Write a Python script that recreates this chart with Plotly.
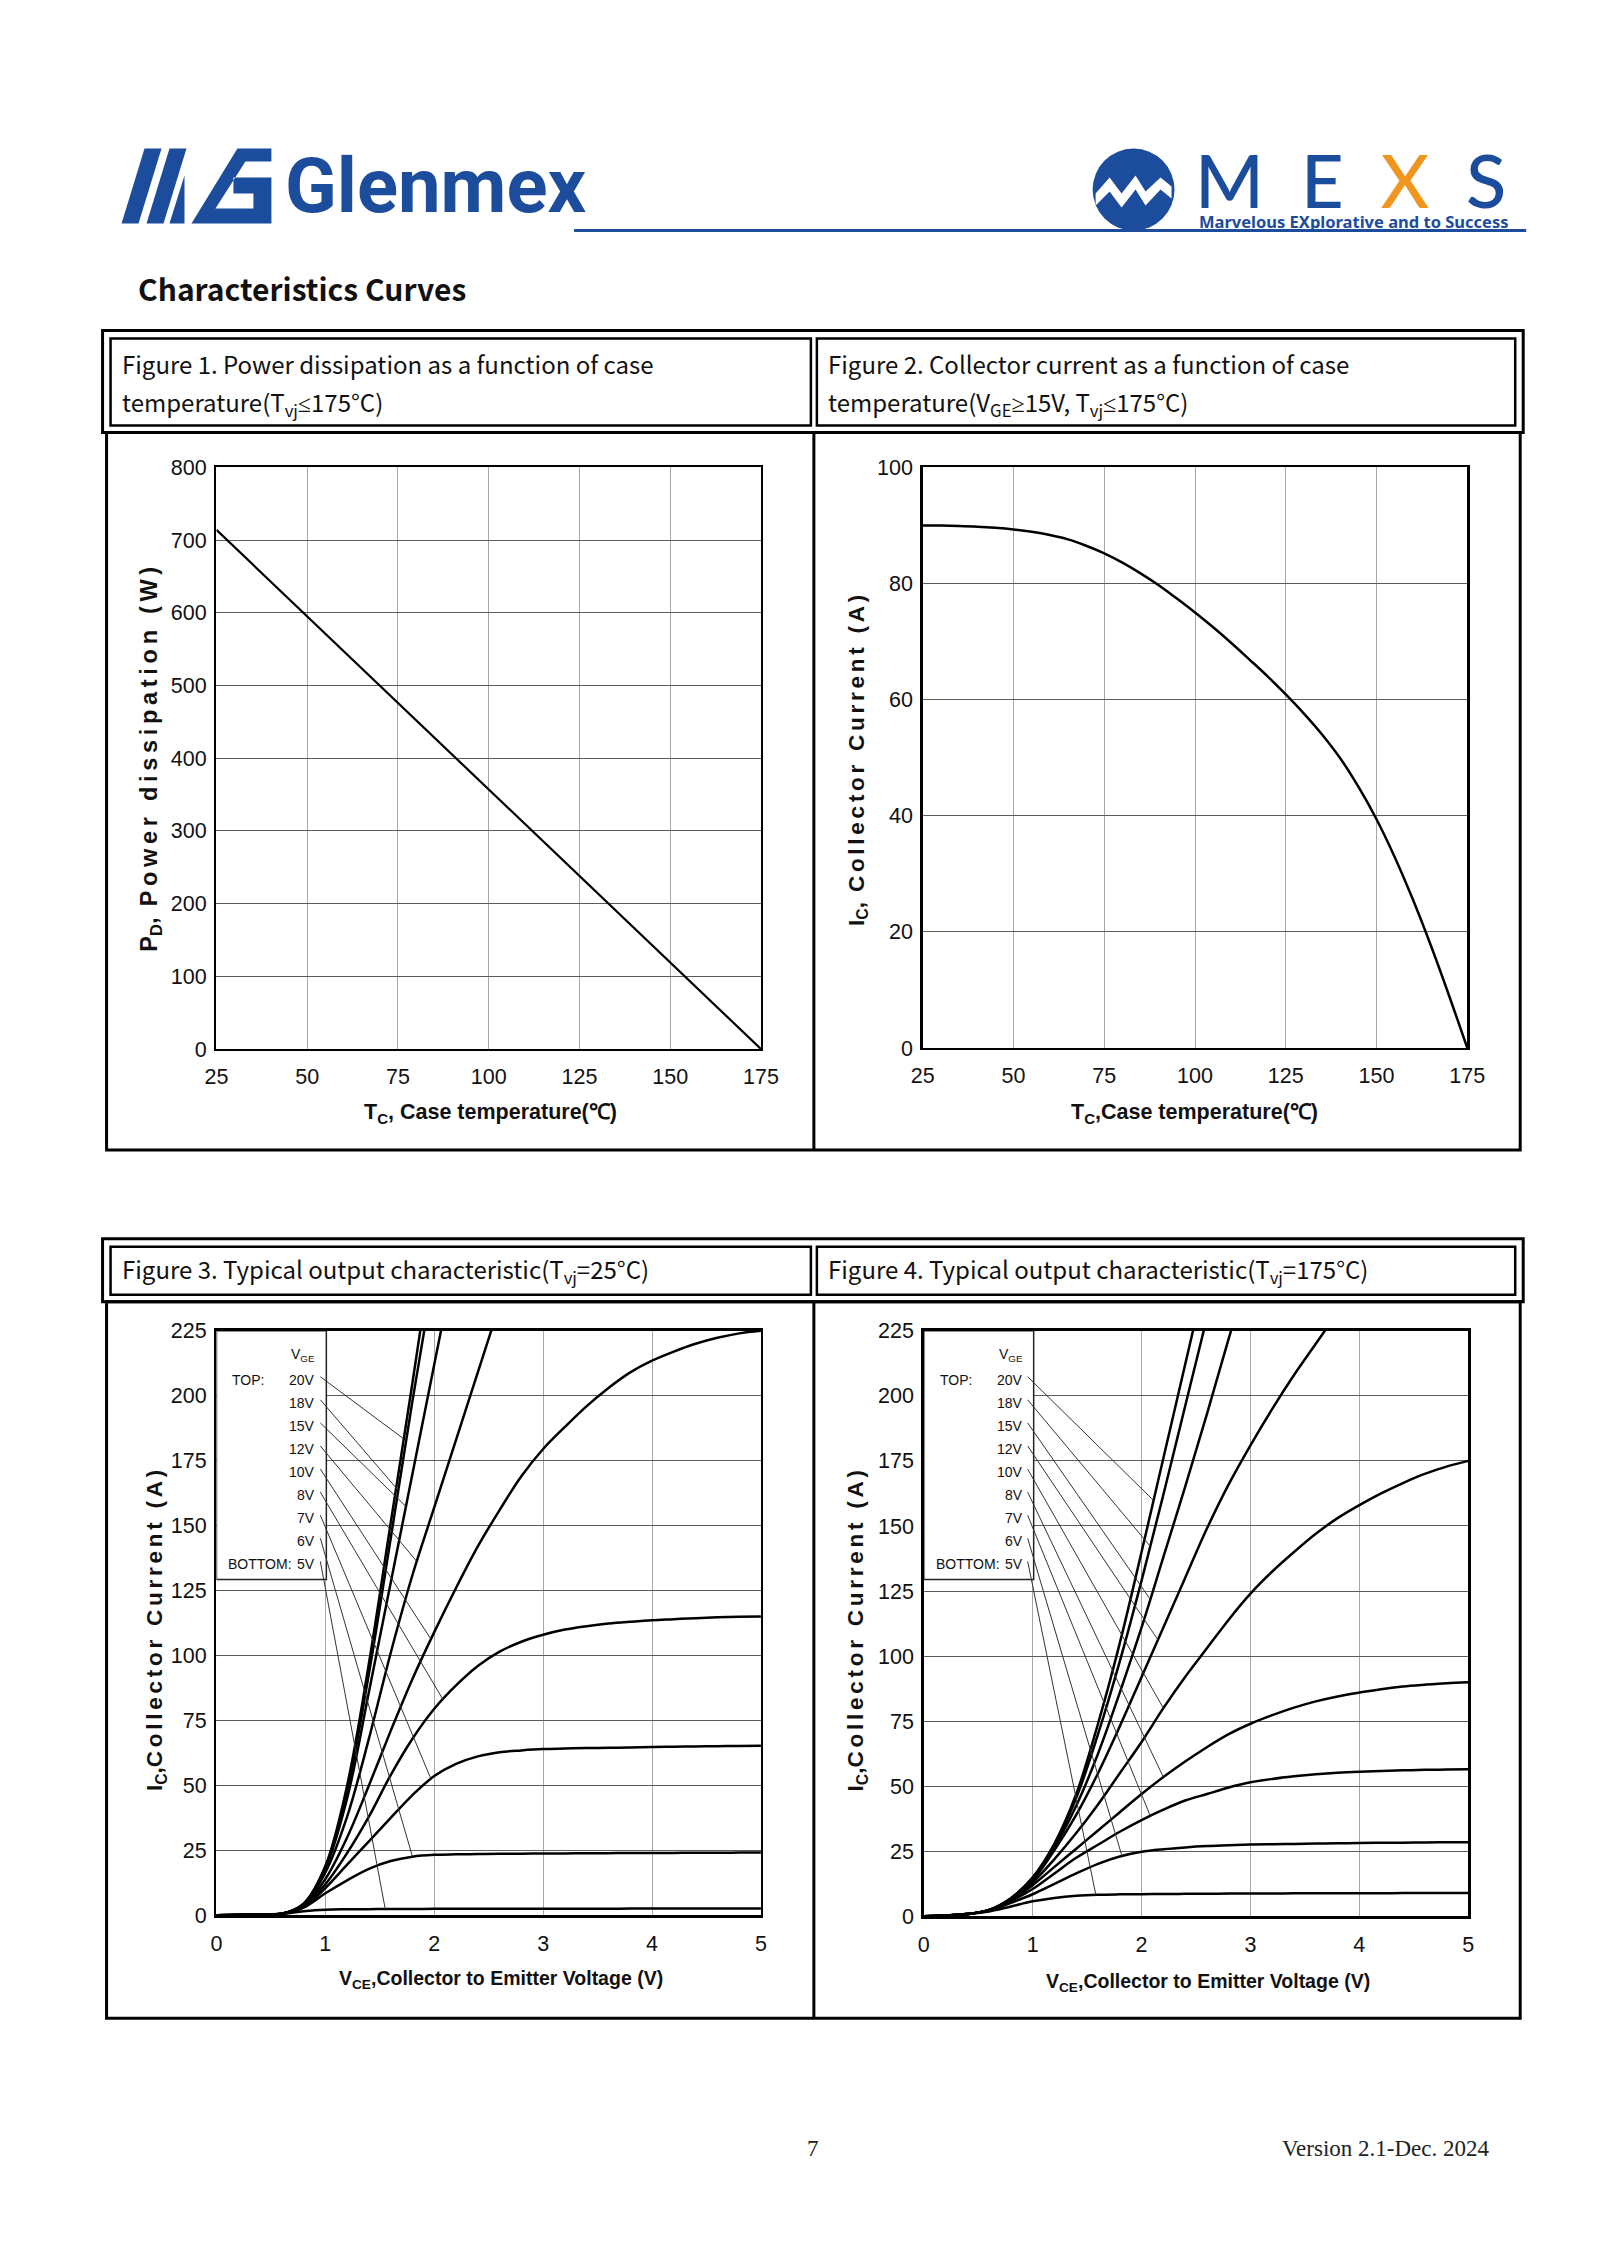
import numpy as np
import plotly.graph_objects as go

# Figure size (the page keeps its default body margin) and a calibration that maps
# page-pixel positions measured on the reference onto figure positions.
PAGE_W, PAGE_H = 1600, 2262
OFF = 8
W, H = PAGE_W - 2 * OFF, PAGE_H - 2 * OFF
SX, CX = 0.982, 10.5
SY, CY = 0.990, 11.4

BLUE = '#1c4c9c'
ORANGE = '#f0961e'
SANS = 'Liberation Sans, Arial, sans-serif'
CJK = 'Noto Sans CJK SC, Noto Sans, sans-serif'
SERIF = 'Liberation Serif, Times New Roman, serif'

# ---------------- data ----------------
fig1_tc = [25, 50, 75, 100, 125, 150, 175]
fig1_pd = [714, 595, 476, 357, 238, 119, 0]

fig2_tc = [25, 30, 35, 40, 45, 50, 55, 60, 65, 70, 75, 80, 85, 90, 95, 100,
           105, 110, 115, 120, 125, 130, 135, 140, 145, 150, 155, 160, 165, 170, 175]
fig2_ic = [90.0, 89.97, 89.9, 89.78, 89.58, 89.3, 88.9, 88.35, 87.6, 86.5, 85.2, 83.6, 81.75, 79.7, 77.4, 75.0,
           72.45, 69.75, 66.9, 64.0, 60.9, 57.6, 54.0, 49.9, 45.0, 39.4, 32.9, 25.6, 17.6, 9.0, 0.0]

vge_labels = ['20V', '18V', '15V', '12V', '10V', '8V', '7V', '6V', '5V']

vce = [0, 0.2, 0.4, 0.6, 0.8, 1.0, 1.2, 1.4, 1.6, 1.8, 2.0, 2.2, 2.4, 2.6, 2.8,
       3.0, 3.2, 3.4, 3.6, 3.8, 4.0, 4.2, 4.4, 4.6, 4.8, 5.0]

# Figure 3, Tvj = 25 C  (values above 225 A are clipped by the axis)
ic3_20v = [0, 0.1, 0.3, 0.6, 4.5, 19, 50, 97, 151, 205, 261] + [None] * 15
ic3_18v = [0, 0.1, 0.3, 0.6, 4.4, 18.5, 48, 93, 145, 198, 248] + [None] * 15
ic3_15v = [0, 0.1, 0.3, 0.6, 4.3, 18, 45, 86, 128, 170, 212, 254] + [None] * 14
ic3_12v = [0, 0.1, 0.3, 0.6, 4.1, 16.5, 38, 68, 101, 131, 157, 183, 209, 235] + [None] * 12
ic3_10v = [0, 0.1, 0.3, 0.6, 3.8, 14, 30, 50, 71, 91, 109, 126, 142, 156, 169, 179.5, 188, 196, 203, 209,
           213.5, 217, 220, 222.3, 224, 225]
ic3_8v = [0, 0.1, 0.3, 0.6, 3.5, 12, 24, 38, 54, 68, 79.5, 88.5, 96, 101.5, 105.3, 108, 110, 111.3, 112.3, 113,
          113.6, 114, 114.4, 114.7, 114.9, 115]
ic3_7v = [0, 0.1, 0.3, 0.6, 3.2, 10.5, 19.5, 28.5, 37.5, 46.3, 53.6, 58.3, 61.2, 62.8, 63.5, 64, 64.2, 64.4, 64.5,
          64.6, 64.8, 64.9, 65, 65.1, 65.2, 65.3]
ic3_6v = [0, 0.1, 0.3, 0.6, 3, 8.5, 13.5, 17.9, 20.9, 22.6, 23.3, 23.5, 23.6, 23.7, 23.75, 23.8, 23.85, 23.9, 23.95,
          24, 24, 24.05, 24.1, 24.1, 24.15, 24.2]
ic3_5v = [0, 0.1, 0.3, 0.6, 1.6, 2.2, 2.35, 2.4, 2.45, 2.45, 2.5, 2.5, 2.5, 2.5, 2.55, 2.55, 2.55, 2.55, 2.55,
          2.6, 2.6, 2.6, 2.6, 2.6, 2.6, 2.6]

# Figure 4, Tvj = 175 C
ic4_20v = [0, 0.3, 0.9, 2.5, 7, 15, 28, 47, 74, 105, 140, 176, 212, 248] + [None] * 12
ic4_18v = [0, 0.3, 0.9, 2.5, 7, 14.8, 27.5, 45.5, 70, 98, 129, 162, 196, 230] + [None] * 12
ic4_15v = [0, 0.3, 0.9, 2.5, 6.8, 14.5, 26.5, 42.5, 62.5, 86, 111, 138, 165, 193, 222, 250] + [None] * 10
ic4_12v = [0, 0.3, 0.9, 2.4, 6.6, 13.8, 25.5, 39, 55, 73, 92, 111, 130, 149, 166, 181, 195, 208, 220, 232] + [None] * 6
ic4_10v = [0, 0.3, 0.9, 2.4, 6.4, 13, 22, 32, 43, 55, 67, 80, 92, 103, 114, 124, 132.5, 140, 147, 153,
           158, 162.5, 166.5, 170, 172.8, 175]
ic4_8v = [0, 0.3, 0.9, 2.4, 6.2, 12, 19, 26, 33, 40, 47, 53.5, 59.5, 65, 70, 74, 77.3, 80.2, 82.6, 84.5,
          86, 87.3, 88.3, 89, 89.6, 90]
ic4_7v = [0, 0.3, 0.9, 2.3, 5.9, 10.5, 16.5, 22.5, 27.5, 32.5, 37, 41, 44.5, 47, 49.5, 51.5, 52.8, 53.8, 54.6,
          55.2, 55.6, 55.9, 56.1, 56.3, 56.4, 56.5]
ic4_6v = [0, 0.3, 0.9, 2.2, 5.2, 8.5, 12.5, 16.5, 20.2, 23, 24.8, 25.8, 26.5, 27, 27.3, 27.6, 27.75, 27.85,
          27.95, 28.05, 28.2, 28.25, 28.3, 28.4, 28.45, 28.5]
ic4_5v = [0, 0.3, 0.9, 1.9, 3.8, 5.8, 7.1, 7.9, 8.3, 8.45, 8.5, 8.6, 8.65, 8.7, 8.75, 8.8, 8.82, 8.84, 8.86,
          8.88, 8.9, 8.92, 8.94, 8.96, 8.98, 9.0]

# VCE where each label's leader line touches its curve
fig3_leader_vce = [1.72, 1.67, 1.74, 1.84, 1.97, 2.08, 1.97, 1.80, 1.55]
fig4_leader_vce = [2.11, 2.08, 2.08, 2.15, 2.20, 2.20, 2.08, 1.82, 1.58]

fig12_xticks = [25, 50, 75, 100, 125, 150, 175]
fig1_yticks = [0, 100, 200, 300, 400, 500, 600, 700, 800]
fig2_yticks = [0, 20, 40, 60, 80, 100]
fig34_xticks = [0, 1, 2, 3, 4, 5]
fig34_yticks = [0, 25, 50, 75, 100, 125, 150, 175, 200, 225]

curves3 = [ic3_20v, ic3_18v, ic3_15v, ic3_12v, ic3_10v, ic3_8v, ic3_7v, ic3_6v, ic3_5v]
curves4 = [ic4_20v, ic4_18v, ic4_15v, ic4_12v, ic4_10v, ic4_8v, ic4_7v, ic4_6v, ic4_5v]


# ---------------- layout helpers (arguments are reference page pixels) ----------------
def X(p):
    return ((p - CX) / SX - OFF) / W


def Y(p):
    return 1 - ((p - CY) / SY - OFF) / H


PLOT = {
    1: (215, 468, 760, 1050),
    2: (922, 468, 1467, 1049),
    3: (215, 1332, 760, 1917),
    4: (923, 1332, 1468, 1918),
}
RANGES = {
    1: ([25, 175], [0, 800], fig12_xticks, fig1_yticks),
    2: ([25, 175], [0, 100], fig12_xticks, fig2_yticks),
    3: ([0, 5], [0, 225], fig34_xticks, fig34_yticks),
    4: ([0, 5], [0, 225], fig34_xticks, fig34_yticks),
}

fig = go.Figure()
layout_axes = {}
for k in range(1, 5):
    l, t, r, b = PLOT[k]
    xr, yr, xt, yt = RANGES[k]
    suf = '' if k == 1 else str(k)
    common = dict(showline=True, mirror=True, linecolor='black', linewidth=2.5,
                  showgrid=True, gridwidth=1, zeroline=False, ticks='outside',
                  tickcolor='rgba(0,0,0,0)', fixedrange=True,
                  tickfont=dict(family=SANS, size=21.5, color='#111'))
    layout_axes['xaxis' + suf] = dict(domain=[X(l), X(r)], anchor='y' + suf, range=xr,
                                      tickvals=xt, gridcolor='#a6a6a6', ticklen=7, **common)
    layout_axes['yaxis' + suf] = dict(domain=[Y(b), Y(t)], anchor='x' + suf, range=yr,
                                      tickvals=yt, gridcolor='#5c5c5c', ticklen=3, **common)

line_kw = dict(color='black', width=2.5, shape='spline', smoothing=1.0)
fig.add_trace(go.Scatter(x=fig1_tc, y=fig1_pd, mode='lines', line=dict(color='black', width=2.2),
                         xaxis='x', yaxis='y', showlegend=False, hoverinfo='skip'))
fig.add_trace(go.Scatter(x=fig2_tc, y=fig2_ic, mode='lines', line=line_kw,
                         xaxis='x2', yaxis='y2', showlegend=False, hoverinfo='skip'))
for c in curves3:
    fig.add_trace(go.Scatter(x=vce, y=c, mode='lines', line=line_kw, xaxis='x3', yaxis='y3',
                             showlegend=False, hoverinfo='skip'))
for c in curves4:
    fig.add_trace(go.Scatter(x=vce, y=c, mode='lines', line=line_kw, xaxis='x4', yaxis='y4',
                             showlegend=False, hoverinfo='skip'))

shapes = []
annotations = []


def rect(x0, y0, x1, y1, w=3, color='black'):
    shapes.append(dict(type='rect', xref='paper', yref='paper', x0=X(x0), x1=X(x1),
                       y0=Y(y1), y1=Y(y0), line=dict(color=color, width=w),
                       fillcolor='rgba(0,0,0,0)', layer='above'))


def seg(x0, y0, x1, y1, w=3, color='black'):
    shapes.append(dict(type='line', xref='paper', yref='paper', x0=X(x0), x1=X(x1),
                       y0=Y(y0), y1=Y(y1), line=dict(color=color, width=w), layer='above'))


def poly(pts, fill):
    d = 'M ' + ' L '.join(f'{X(a):.5f} {Y(b):.5f}' for a, b in pts) + ' Z'
    shapes.append(dict(type='path', xref='paper', yref='paper', path=d, fillcolor=fill,
                       line=dict(width=0), layer='above'))


def text(x, y, s, size, family=CJK, color='#111', anchor='left', weight='normal', angle=0):
    annotations.append(dict(xref='paper', yref='paper', x=X(x), y=Y(y), text=s,
                            showarrow=False, xanchor=anchor, yanchor='middle', textangle=angle,
                            font=dict(family=family, size=size, color=color, weight=weight)))


# ---------------- page header ----------------
poly([(120, 224), (137, 224), (160, 149), (143, 149)], BLUE)
poly([(145, 224), (162, 224), (185, 149), (168, 149)], BLUE)
poly([(168, 224), (183, 224), (183, 176)], BLUE)
poly([(190, 224), (270, 224), (270, 178), (232, 178), (232, 194), (252, 194), (252, 209),
      (214, 209), (244, 162), (270, 162), (270, 149), (236, 149)], BLUE)
text(282, 186, 'Glenmex', 76, family='Roboto, Liberation Sans, sans-serif', color=BLUE, weight='bold')
seg(573, 231, 1526, 231, w=3, color=BLUE)
shapes.append(dict(type='circle', xref='paper', yref='paper', x0=X(1092), x1=X(1174),
                   y0=Y(231), y1=Y(149), fillcolor=BLUE, line=dict(width=0), layer='above'))
cx, cy = 1133, 190
zig_top = [(-38, 4), (-24, -12), (-12, 4), (2, -14), (12, 2), (27, -12), (38, -3)]
zig_bot = [(38, 9), (27, 0), (12, 16), (2, 0), (-12, 18), (-24, 2), (-38, 16)]
poly([(cx + a, cy + b) for a, b in zig_top + zig_bot], 'white')
text(1192, 180, 'M\u2002E\u2002<span style="color:%s">X</span>\u2002S' % ORANGE, 74,
     family='Lato, Inter, sans-serif', color=BLUE, weight=500)
text(1196, 222, 'Marvelous EXplorative and to Success', 16.5, family='Noto Sans, sans-serif',
     color=BLUE, weight='bold')

text(134, 289, 'Characteristics Curves', 30, family=CJK, color='#111', weight='bold')

# ---------------- panel frames ----------------
for (top, hb, bot) in [(331, 433, 1151), (1240, 1303, 2020)]:
    rect(101, top, 1523, hb, w=3)
    rect(109, top + 8, 810, hb - 7, w=2.5)
    rect(816, top + 8, 1515, hb - 7, w=2.5)
    rect(105, hb, 1520, bot, w=3)
    seg(813, hb, 813, bot, w=3)

LE = '<span style="font-family:Noto Sans">≤</span>'
GE = '<span style="font-family:Noto Sans">≥</span>'
HS = 24
text(118, 364, 'Figure 1. Power dissipation as a function of case', HS)
text(118, 404, 'temperature(T<sub>vj</sub>' + LE + '175°C)', HS)
text(825, 364, 'Figure 2. Collector current as a function of case', HS)
text(825, 404, 'temperature(V<sub>GE</sub>' + GE + '15V, T<sub>vj</sub>' + LE + '175°C)', HS)
text(118, 1271, 'Figure 3. Typical output characteristic(T<sub>vj</sub>=25°C)', HS)
text(825, 1271, 'Figure 4. Typical output characteristic(T<sub>vj</sub>=175°C)', HS)


def spaced(s, sep):
    return sep.join(list(s))


# axis titles
text(489, 1115, 'T<sub>C</sub>, Case temperature(℃)', 21.5, family=SANS, anchor='center', weight='bold')
text(1194, 1115, 'T<sub>C</sub>,Case temperature(℃)', 21.5, family=SANS, anchor='center', weight='bold')
text(500, 1981, 'V<sub>CE</sub>,Collector to Emitter Voltage (V)', 19.5, family=SANS, anchor='center', weight='bold')
text(1207, 1984, 'V<sub>CE</sub>,Collector to Emitter Voltage (V)', 19.5, family=SANS, anchor='center', weight='bold')
text(149, 760, 'P<sub>D</sub>,' + spaced(' Power dissipation (W)', '\u2009'), 23.5, family=SANS,
     anchor='center', weight='bold', angle=-90)
text(857, 761, 'I<sub>C</sub>,' + spaced(' Collector Current (A)', '\u2006'), 22.5, family=SANS,
     anchor='center', weight='bold', angle=-90)
text(154, 1632, 'I<sub>C</sub>,' + spaced('Collector Current (A)', '\u2006'), 22.5, family=SANS,
     anchor='center', weight='bold', angle=-90)
text(856, 1632, 'I<sub>C</sub>,' + spaced('Collector Current (A)', '\u2006'), 22.5, family=SANS,
     anchor='center', weight='bold', angle=-90)


# ---------------- legends with leader lines (figures 3 and 4) ----------------
def interp_curve(xs, ys, v):
    pts = [(a, b) for a, b in zip(xs, ys) if b is not None]
    return float(np.interp(v, [p[0] for p in pts], [p[1] for p in pts]))


LS = 14
for k, curves, lead_v in [(3, curves3, fig3_leader_vce), (4, curves4, fig4_leader_vce)]:
    l, t, r, b = PLOT[k]
    xa, ya = ('x%d' % k), ('y%d' % k)

    def to_data(pxx, pyy):
        return (pxx - l) / (r - l) * 5.0, (b - pyy) / (b - t) * 225.0

    bx0, by0 = to_data(l, t)
    bx1, by1 = to_data(l + 110, t + 249)
    shapes.append(dict(type='rect', xref=xa, yref=ya, x0=bx0, x1=bx1, y0=by1, y1=by0,
                       line=dict(color='#222', width=1.5), fillcolor='white', layer='between'))
    text(l + 101, t + 24, 'V<sub>GE</sub>', LS, family=SANS, anchor='right')
    text(l + 14, t + 49, 'TOP:', LS, family=SANS)
    text(l + 10, t + 49 + 8 * 23.1, 'BOTTOM:', LS, family=SANS)
    for i, lab in enumerate(vge_labels):
        ly = t + 49 + i * 23.1
        text(l + 101, ly, lab, LS, family=SANS, anchor='right')
        sx, sy = to_data(l + 104, ly - 3)
        ex = lead_v[i]
        ey = interp_curve(vce, curves[i], ex)
        shapes.append(dict(type='line', xref=xa, yref=ya, x0=sx, y0=sy, x1=ex, y1=ey,
                           line=dict(color='#333', width=1), layer='above'))

# ---------------- footer ----------------
text(812, 2150, '7', 23, family=SERIF, anchor='center', color='#222')
text(1491, 2150, 'Version 2.1-Dec. 2024', 23, family=SERIF, anchor='right', color='#222')

fig.update_layout(
    width=W, height=H, autosize=False,
    margin=dict(l=0, r=0, t=0, b=0, pad=0),
    paper_bgcolor='white', plot_bgcolor='white',
    showlegend=False, hovermode=False,
    shapes=shapes, annotations=annotations,
    **layout_axes,
)

fig.write_html('out.html', config={'displayModeBar': False, 'staticPlot': True})
